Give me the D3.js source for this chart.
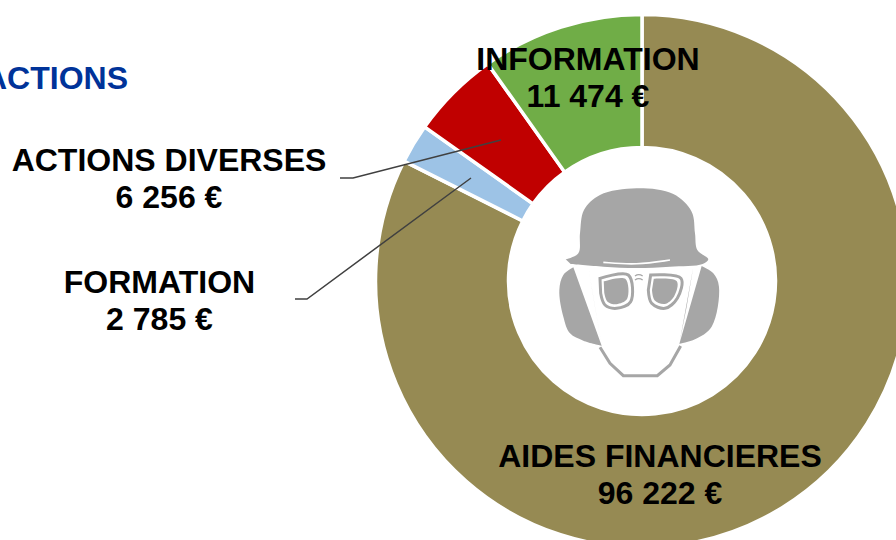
<!DOCTYPE html>
<html><head><meta charset="utf-8">
<script src="https://cdn.jsdelivr.net/npm/d3@7"></script>
<style>html,body{margin:0;padding:0;background:#fff;overflow:hidden}svg{display:block}</style>
</head><body><svg id="c" width="896" height="540"></svg>
<script>
const categories = ["AIDES FINANCIERES","FORMATION","ACTIONS DIVERSES","INFORMATION"];
const values = [96222,2785,6256,11474];
const valueLabels = ["96 222 €","2 785 €","6 256 €","11 474 €"];
const colors = ["#968A53","#9DC3E6","#C00000","#70AD47"];
const labelAnchors = [[660,467],[159.5,293],[169,171],[588,70]];
const leaders = [null,[[471,178],[307,299],[295,299]],[[501,140],[353,178],[340,178]],null];
const cx=642, cy=281, R=266.5, r=133.5;
const svg=d3.select("#c");
svg.append("text").attr("x",128).attr("y",89).attr("text-anchor","end")
  .attr("font-family","Liberation Sans").attr("font-weight",700).attr("font-size",32).attr("fill","#003399").text("ACTIONS");
const pie=d3.pie().sort(null)(values);
const arc=d3.arc().innerRadius(r).outerRadius(R);
const g=svg.append("g").attr("transform",`translate(${cx},${cy})`);
g.selectAll("path").data(pie).join("path").attr("d",arc)
  .attr("fill",(d,i)=>colors[i]).attr("stroke","#fff").attr("stroke-width",3.5);
// icon
const icon=svg.append("g").attr("transform","translate(520,170) scale(0.3333)").attr("fill","#A6A6A6");
const line=d3.line().curve(d3.curveCatmullRom.alpha(0.5));
const helmet=[[137,268],[175,250],[180,190],[192,120],[240,75],[350,55],[460,72],[515,125],[525,190],[532,240],[565,268],[548,282],[450,290],[350,294],[250,290],[152,282]];
const earL=[[188,283],[205,292],[225,410],[245,527],[190,512],[150,490],[130,440],[118,360],[130,315],[160,292]];
const earR=[[520,290],[500,410],[478,522],[525,508],[575,470],[597,350],[580,310],[545,288]];
icon.append("path").attr("d",line(helmet)+"Z");
icon.append("path").attr("d",d3.line()(earL.slice(1,4))+line(earL.slice(3))+"Z");
icon.append("path").attr("d",d3.line()(earR.slice(0,3))+line(earR.slice(2))+"Z");
icon.append("path").attr("d",d3.line()([[240,532],[270,580],[310,617],[412,617],[450,585],[482,528]]))
  .attr("fill","none").attr("stroke","#A6A6A6").attr("stroke-width",9);
icon.append("path").attr("d",d3.line().curve(d3.curveBasis)([[250,277],[350,285],[450,270]]))
  .attr("fill","none").attr("stroke","#fff").attr("stroke-width",5);
const gl=d3.line().curve(d3.curveCatmullRom.alpha(0.5));
const lensL=[[240,325],[325,315],[332,395],[290,415],[255,405],[242,370]];
const lensR=[[392,315],[483,325],[472,385],[435,415],[395,400],[385,360]];
[lensL,lensR].forEach(p=>{
  icon.append("path").attr("d",gl(p)+"Z").attr("fill","#fff").attr("stroke","#A6A6A6").attr("stroke-width",9);
  const c=d3.polygonCentroid(p);
  icon.append("path").attr("d",gl(p.map(q=>[c[0]+(q[0]-c[0])*.76,c[1]+(q[1]-c[1])*.76]))+"Z");
});
icon.append("path").attr("d","M345 318Q356 310 368 318M345 330Q356 322 368 330").attr("fill","none").attr("stroke","#A6A6A6").attr("stroke-width",4);
// leaders
leaders.forEach(l=>{ if(l) svg.append("path").attr("d",d3.line()(l)).attr("fill","none").attr("stroke","#404040").attr("stroke-width",1.5);});
// labels
categories.forEach((c,i)=>{
  const [x,y]=labelAnchors[i];
  const t=svg.append("text").attr("text-anchor","middle").attr("font-family","Liberation Sans").attr("font-weight",700).attr("font-size",32).attr("fill","#000");
  t.append("tspan").attr("x",x).attr("y",y).text(c);
  t.append("tspan").attr("x",x).attr("y",y+37).text(valueLabels[i]);
});
</script></body></html>
